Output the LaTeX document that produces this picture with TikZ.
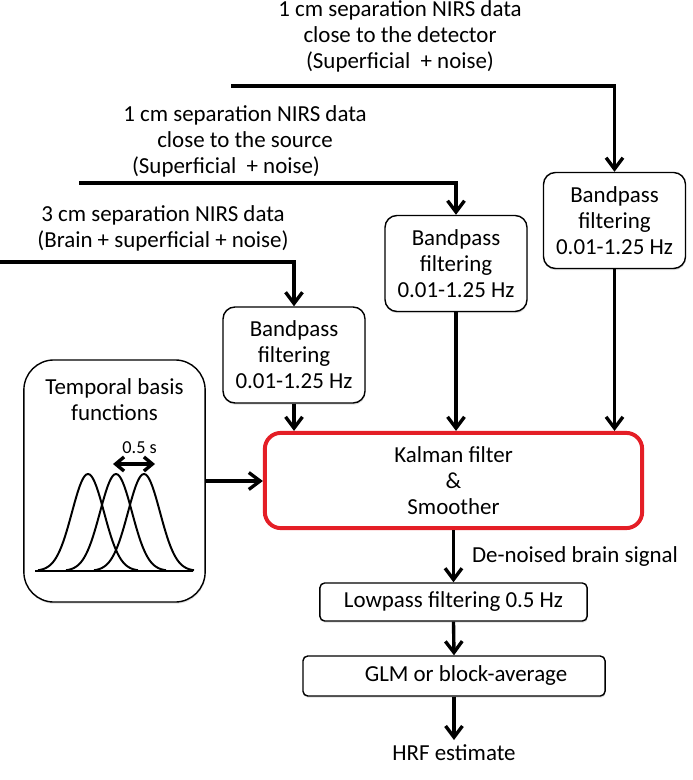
\documentclass[tikz,border=0pt]{standalone}
\usepackage{fontspec}
\setmainfont{Carlito}
\usepackage{xcolor}
\usetikzlibrary{arrows.meta, shadows}

\definecolor{kalmanred}{RGB}{228,30,38}

\tikzset{
  srctext/.style={align=center, inner sep=0pt},
  bandbox/.style={draw, line width=1pt, rounded corners=0.3cm, align=center, fill=white,
    minimum width=3.55cm, minimum height=2.4cm, inner sep=0pt,
    drop shadow={shadow xshift=0.4pt, shadow yshift=-1.2pt, opacity=0.25}},
  outbox/.style={draw, line width=1pt, rounded corners=0.12cm, fill=white, inner sep=0pt,
    drop shadow={shadow xshift=0.4pt, shadow yshift=-1.2pt, opacity=0.25}},
  kalmanbox/.style={draw=kalmanred, line width=2.8pt, rounded corners=0.4cm, align=center,
    minimum width=9.43cm, minimum height=2.38cm, inner sep=0pt},
  basisbox/.style={draw, line width=1pt, rounded corners=0.75cm, fill=white,
    minimum width=4.53cm, minimum height=6.05cm,
    drop shadow={shadow xshift=0.4pt, shadow yshift=-1.2pt, opacity=0.25}},
  flow/.style={line width=2.4pt, -{Straight Barb[length=8pt, width=12pt]}},
  span/.style={line width=2.4pt, {Straight Barb[length=6pt, width=10pt]}-{Straight Barb[length=6pt, width=10pt]}},
  curve/.style={line width=1.4pt, line join=round}
}

\begin{document}
\begin{tikzpicture}[x=0.025cm, y=-0.025cm, font=\fontsize{16.3}{18.5}\selectfont]
\useasboundingbox (0,0) rectangle (692,780);

\node[srctext] (srcD) at (400,36) {1 cm separation NIRS data\\close to the detector\\(Superficial\ \ + noise)};
\node[srctext] (srcS) at (245,141) {1 cm separation NIRS data\\close to the source\\(Superficial\ \ + noise)\hspace*{0.95cm}};
\node[srctext] (srcB) at (163,228) {3 cm separation NIRS data\\(Brain + superficial + noise)};

\coordinate (lineD) at (231,86);
\coordinate (lineS) at (79,183);
\coordinate (lineB) at (0,262);

\node[bandbox] (bandB) at (294,355) {Bandpass\\filtering\\0.01-1.25 Hz};
\node[bandbox] (bandS) at (456,263.5) {Bandpass\\filtering\\0.01-1.25 Hz};
\node[bandbox] (bandD) at (614.5,220.5) {Bandpass\\filtering\\0.01-1.25 Hz};

\node[kalmanbox] (kalman) at (453.5,480.5) {Kalman filter\\\&\\Smoother};

\node[basisbox] (basis) at (114.5,481) {};
\node[srctext] (basistitle) at (114.5,400) {Temporal basis\\functions};
\coordinate (spanL) at (113,464);
\coordinate (spanR) at (155,464);
\draw[span] (spanL) -- node[above=6pt, font=\fontsize{13}{15}\selectfont, inner sep=0pt, xshift=4pt] (spanlabel) {0.5 s} (spanR);
\foreach \peak in {88,116,144}
  \draw[curve] plot[domain=-50:50, samples=61] ({\peak+\x},{571-97*exp(-(\x*\x)/512)});
\draw[curve] (35,571) -- (193,571);

\node[outbox, minimum width=6.68cm, minimum height=0.95cm] (lowpass) at (453.5,602) {Lowpass filtering 0.5 Hz};
\node[outbox, minimum width=7.55cm, minimum height=1cm] (glm) at (454,676) {\hspace*{0.6cm}GLM or block-average};
\node (hrf) at (454,753) {HRF estimate};

\draw[flow] (lineD) -| (bandD.north);
\draw[flow] (lineS) -| (bandS.north);
\draw[flow] (lineB) -| (bandB.north);
\draw[flow] (bandB.south) -- (bandB.south |- kalman.north);
\draw[flow] (bandS.south) -- (bandS.south |- kalman.north);
\draw[flow] (bandD.south) -- (bandD.south |- kalman.north);
\draw[flow] (basis.east) -- (basis.east -| kalman.west);
\draw[flow] (kalman.south) -- node[right=12pt, inner sep=0pt] (denoised) {De-noised brain signal} (lowpass.north);
\draw[flow] (lowpass.south) -- (glm.north);
\draw[flow] (glm.south) -- (hrf.north);
\end{tikzpicture}
\end{document}
